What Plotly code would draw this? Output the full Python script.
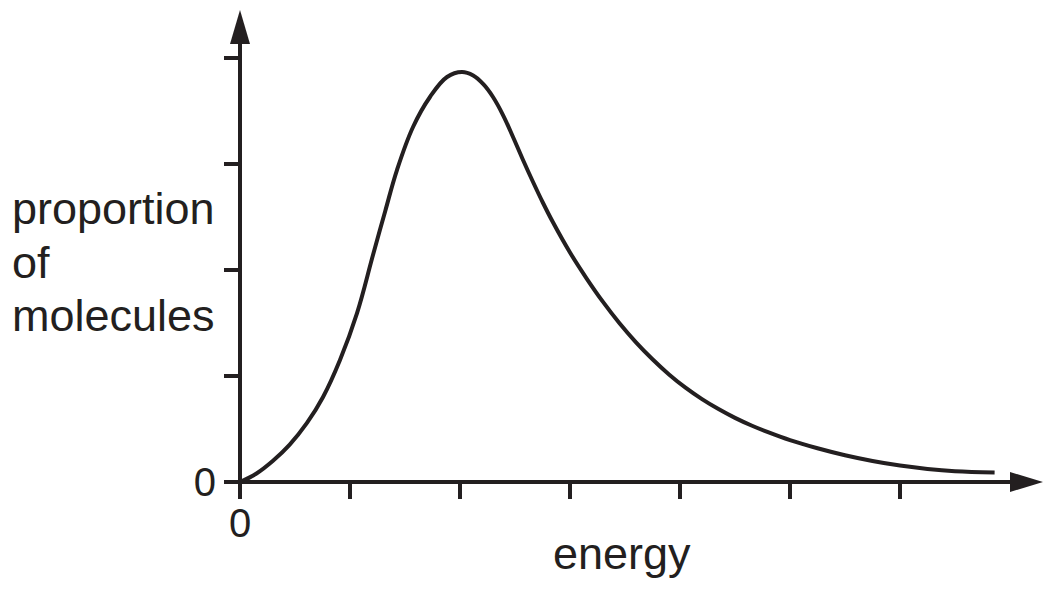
import plotly.graph_objects as go

# Curve data (energy and proportion in tick units)
energy = [0.000, 0.150, 0.300, 0.450, 0.609, 0.755, 0.909, 1.064, 1.209, 1.320,
          1.427, 1.573, 1.727, 1.882, 2.018, 2.120, 2.210, 2.300, 2.391, 2.482,
          2.573, 2.664, 2.755, 2.845, 3.000, 3.150, 3.300, 3.450, 3.600, 3.750,
          3.900, 4.050, 4.200, 4.350, 4.500, 4.650, 4.800, 5.000, 5.250, 5.500,
          5.750, 6.000, 6.250, 6.500, 6.860]
proportion = [0.000, 0.080, 0.200, 0.350, 0.557, 0.802, 1.151, 1.594, 2.142, 2.555,
              2.943, 3.349, 3.632, 3.821, 3.868, 3.835, 3.755, 3.632, 3.462, 3.255,
              3.038, 2.830, 2.632, 2.450, 2.165, 1.922, 1.699, 1.498, 1.318, 1.158,
              1.015, 0.890, 0.782, 0.688, 0.605, 0.533, 0.470, 0.395, 0.318, 0.252,
              0.198, 0.155, 0.123, 0.102, 0.090]

x_ticks = [0, 1, 2, 3, 4, 5, 6]
x_ticklabels = ["0", "", "", "", "", "", ""]
y_ticks = [0, 1, 2, 3, 4]
y_ticklabels = ["0", "", "", "", ""]

INK = "#231f20"
FONT = "Liberation Sans, Arial, Helvetica, sans-serif"

W, H = 1051, 594
ML, MR, MT, MB = 207, 0, 0, 80
X0PX, XUNIT = 240, 110     # pixel of x=0, pixels per x unit
Y0PX, YUNIT = 482, 106     # pixel of y=0, pixels per y unit

pw = W - ML - MR
ph = H - MT - MB
xr = [(ML - X0PX) / XUNIT, (ML + pw - X0PX) / XUNIT]
yr = [(Y0PX - (MT + ph)) / YUNIT, (Y0PX - MT) / YUNIT]


def px2x(px):
    return (px - X0PX) / XUNIT


def px2y(py):
    return (Y0PX - py) / YUNIT


def px2paper_x(px):
    return (px - ML) / pw


def px2paper_y(py):
    return 1 - (py - MT) / ph


fig = go.Figure()
fig.add_trace(go.Scatter(
    x=energy, y=proportion, mode="lines",
    line=dict(color=INK, width=4, shape="spline", smoothing=1.1),
    cliponaxis=False, hoverinfo="skip", showlegend=False,
))

# axes lines and arrowheads
shapes = [
    dict(type="line", xref="x", yref="y", x0=0, y0=0, x1=px2x(1012), y1=0,
         line=dict(color=INK, width=4)),
    dict(type="line", xref="x", yref="y", x0=0, y0=0, x1=0, y1=px2y(42),
         line=dict(color=INK, width=4)),
    dict(type="path", xref="x", yref="y",
         path=f"M {px2x(1010)},{px2y(472)} L {px2x(1043)},0 L {px2x(1010)},{px2y(492)} Z",
         fillcolor=INK, line=dict(color=INK, width=0)),
    dict(type="path", xref="x", yref="y",
         path=f"M {px2x(230)},{px2y(44)} L 0,{px2y(10)} L {px2x(250)},{px2y(44)} Z",
         fillcolor=INK, line=dict(color=INK, width=0)),
]

annotations = []
for text, py in [("proportion", 208), ("of", 262), ("molecules", 315)]:
    annotations.append(dict(text=text, xref="paper", yref="paper",
                            x=px2paper_x(10), y=px2paper_y(py),
                            xanchor="left", yanchor="middle", showarrow=False,
                            font=dict(size=45, color=INK, family=FONT)))
annotations.append(dict(text="energy", xref="paper", yref="paper",
                        x=px2paper_x(622), y=px2paper_y(553),
                        xanchor="center", yanchor="middle", showarrow=False,
                        font=dict(size=45, color=INK, family=FONT)))

fig.update_layout(
    width=W, height=H,
    margin=dict(l=ML, r=MR, t=MT, b=MB, pad=0),
    paper_bgcolor="white", plot_bgcolor="white",
    font=dict(family=FONT, color=INK),
    xaxis=dict(range=xr, showgrid=False, zeroline=False, showline=False,
               tickvals=x_ticks, ticktext=x_ticklabels, ticks="outside",
               ticklen=16, tickwidth=4, tickcolor=INK, ticklabelstandoff=-10,
               tickfont=dict(size=40, color=INK, family=FONT),
               anchor="free", position=(0 - yr[0]) / (yr[1] - yr[0]),
               fixedrange=True),
    yaxis=dict(range=yr, showgrid=False, zeroline=False, showline=False,
               tickvals=y_ticks, ticktext=y_ticklabels, ticks="outside",
               ticklen=16, tickwidth=4, tickcolor=INK,
               tickfont=dict(size=40, color=INK, family=FONT),
               anchor="free", position=(0 - xr[0]) / (xr[1] - xr[0]),
               fixedrange=True),
    shapes=shapes,
    annotations=annotations,
    showlegend=False,
)

fig.write_html("out.html")
